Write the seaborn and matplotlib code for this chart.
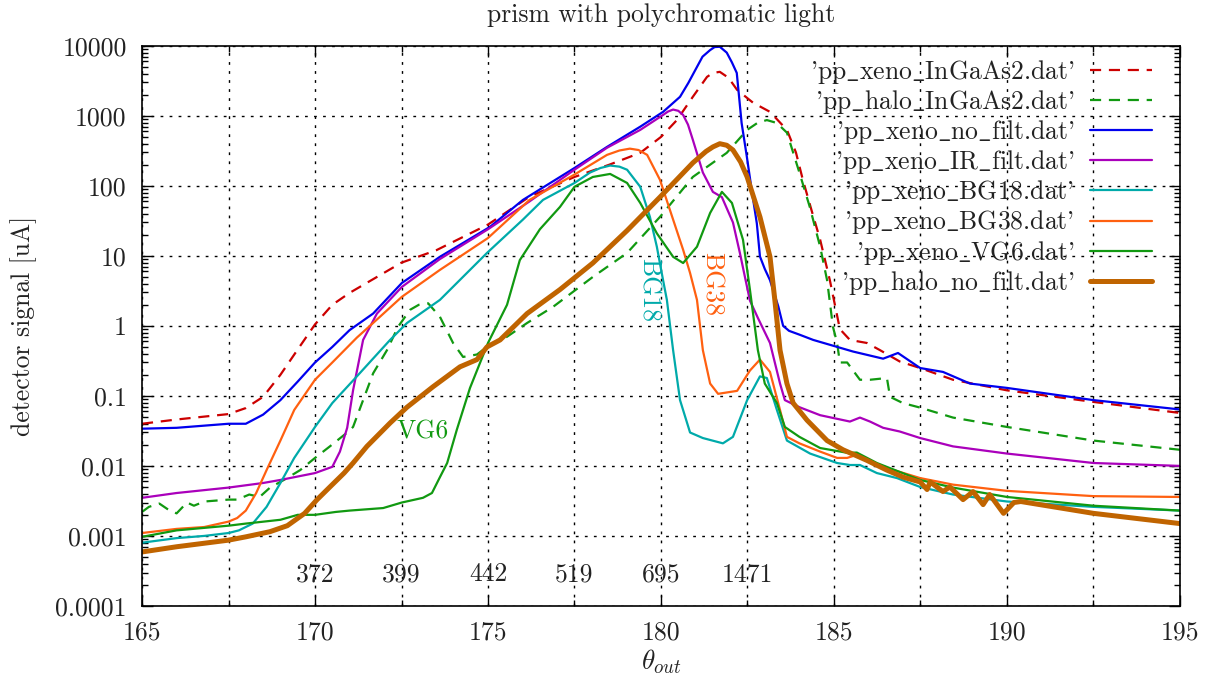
import numpy as np
import pandas as pd
import matplotlib
matplotlib.use("Agg")
import matplotlib.pyplot as plt
import matplotlib.ticker as mticker
import seaborn as sns

# ---------------- data ----------------
xeno_ingaas_x = [165, 166, 167.5, 168, 168.5, 169, 169.5, 170, 170.5, 171, 172.5, 173.5, 175, 176.2, 177.5,
                 178.5, 179.4, 180, 180.46, 180.92, 181.33, 181.5, 181.7, 181.95, 182.2, 182.66, 183.15, 183.64,
                 183.9, 184.1, 184.35, 184.6, 184.88, 185.17, 185.46, 185.95, 186.33, 186.9, 187.49, 188.44,
                 190, 192.5, 195]
xeno_ingaas_y = [0.04, 0.046, 0.055, 0.067, 0.097, 0.2, 0.46, 1.05, 2.0, 2.96, 8, 12, 28, 70, 134,
                 200, 296, 500, 870, 1870, 3600, 4100, 4250, 3500, 2350, 1540, 1140, 630,
                 300, 122, 45, 17, 4.5, 0.9, 0.63, 0.57, 0.45, 0.31, 0.25, 0.17,
                 0.12, 0.082, 0.057]

halo_ingaas_x = [165, 165.2, 165.5, 165.8, 166, 166.3, 166.5, 166.8, 167.5, 167.75, 168.1, 168.4, 168.7, 169.1,
                 169.57, 170, 170.43, 170.93, 171.1, 171.39, 171.68, 172.08, 172.4, 172.75, 173.0, 173.27, 173.61,
                 173.99, 174.28, 174.68, 174.97, 175.55, 176.13, 176.88, 178.03, 179.02, 179.97, 180.92, 181.9,
                 182.49, 182.8, 183.06, 183.35, 183.64, 184, 184.3, 184.6, 184.8, 184.97, 185.09, 185.17, 185.38,
                 185.75, 186.04, 186.53, 186.62, 186.99, 187.49, 188.44, 190, 192.5, 195]
halo_ingaas_y = [0.0022, 0.0026, 0.0029, 0.0023, 0.0021, 0.003, 0.0027, 0.0031, 0.0033, 0.0033, 0.0039, 0.0036,
                 0.0049, 0.0063, 0.0087, 0.013, 0.019, 0.03, 0.036, 0.087, 0.21, 0.45, 0.97, 1.7, 2.0, 2.1, 1.35,
                 0.57, 0.36, 0.39, 0.5, 0.7, 1.1, 1.87, 5, 11, 36, 134, 296,
                 630, 800, 870, 790, 575, 155, 50, 13.5, 4.5, 0.97, 0.57, 0.3, 0.3,
                 0.17, 0.17, 0.18, 0.097, 0.079, 0.068, 0.049, 0.036, 0.023, 0.017]

xeno_nofilt_x = [165, 166, 167.5, 168, 168.5, 169, 169.5, 170, 170.5, 171, 171.68, 172.51, 173.61, 175.06,
                 176.01, 177.5, 178.44, 179.4, 180.06, 180.55, 180.79, 181.04, 181.2, 181.42, 181.55, 181.7,
                 181.9, 182.05, 182.19, 182.33, 182.48, 182.62, 182.77, 182.86, 183.0, 183.15, 183.39, 183.53,
                 183.7, 184.0, 184.4, 185.55, 186.42, 186.85, 187.49, 188.15, 188.93, 190, 192.5, 195]
xeno_nofilt_y = [0.034, 0.035, 0.04, 0.04, 0.054, 0.087, 0.16, 0.3, 0.5, 0.87, 1.5, 4.1, 9.7, 26,
                 63, 180, 360, 700, 1140, 1870, 2950, 5000, 7000, 8700, 9600, 9700,
                 8000, 5800, 4100, 790, 263, 88, 29, 9.8, 6.5, 4.5, 1.9, 1.0,
                 0.85, 0.75, 0.63, 0.43, 0.34, 0.41, 0.25, 0.22, 0.15, 0.13, 0.087, 0.064]

xeno_ir_x = [165, 166, 167.5, 168.5, 169, 170, 170.5, 170.72, 170.93, 171.1, 171.39, 171.79, 172.51, 173.61,
             175, 176.2, 177.5, 178.44, 179.4, 180.06, 180.2, 180.35, 180.5, 180.64, 180.78, 180.92, 181.21, 181.5,
             181.76, 182.08, 182.28, 182.57, 182.8, 183.15, 183.44, 183.58, 184, 184.6, 185.46, 185.75, 186.04,
             186.42, 186.9, 187.49, 188.44, 190, 192.5, 195]
xeno_ir_y = [0.0035, 0.0041, 0.0049, 0.0057, 0.0063, 0.0079, 0.0097, 0.016, 0.035, 0.12, 0.63, 1.5, 3.6, 9,
             24, 60, 170, 350, 630, 1030, 1150, 1230, 1180, 1030, 750, 455, 155, 82,
             69, 30, 11, 2.3, 1.3, 0.57, 0.15, 0.087, 0.069, 0.053, 0.043, 0.049, 0.043,
             0.035, 0.031, 0.025, 0.019, 0.015, 0.011, 0.01]

xeno_bg18_x = [165, 166, 166.8, 167.5, 167.8, 168.2, 168.6, 169, 169.4, 170, 170.5, 171.21, 172.17, 172.66,
               173.61, 174.97, 176.01, 176.59, 177.5, 177.95, 178.25, 178.53, 178.8, 179.02, 179.4, 179.68, 179.88,
               180.06, 180.17, 180.35, 180.55, 180.84, 181.21, 181.79, 182.08, 182.49, 182.86, 183.06, 183.35,
               183.64, 184.31, 185.09, 185.46, 185.75, 186.24, 186.82, 187.49, 188.44, 190, 192.5, 195]
xeno_bg18_y = [0.0008, 0.00093, 0.001, 0.0011, 0.0012, 0.0015, 0.0026, 0.0057, 0.013, 0.036, 0.079, 0.19, 0.63, 1.1,
               2.35, 11, 33, 63, 110, 155, 180, 195, 188, 170, 97, 36, 13.5,
               4.5, 2.35, 0.45, 0.087, 0.03, 0.025, 0.021, 0.026, 0.087, 0.19, 0.18, 0.063,
               0.023, 0.015, 0.011, 0.0103, 0.0103, 0.0079, 0.0067, 0.005, 0.0039, 0.0031, 0.0026, 0.0023]

xeno_bg38_x = [165, 166, 166.8, 167.5, 167.75, 168, 168.3, 168.6, 169, 169.4, 170, 170.5, 171.21, 171.68, 172.51,
               173.61, 175, 176.2, 177.5, 178.44, 178.8, 179.1, 179.35, 179.6, 179.97, 180.35, 180.64, 180.84,
               181.04, 181.21, 181.42, 181.65, 182.2, 182.57, 182.86, 183.15, 183.44, 183.64, 184, 184.6, 185.09,
               185.38, 185.66, 186.24, 187.49, 188.44, 190, 192.5, 195]
xeno_bg38_y = [0.0011, 0.00126, 0.00134, 0.0016, 0.0018, 0.0023, 0.0041, 0.0087, 0.023, 0.063, 0.17, 0.3, 0.68, 1.1,
               2.6, 6.3, 18, 63, 145, 277, 320, 340, 325, 277, 122, 33, 12.2, 5.7,
               2.35, 0.45, 0.15, 0.107, 0.118, 0.23, 0.33, 0.22, 0.063, 0.026, 0.021, 0.016, 0.013,
               0.013, 0.0144, 0.0103, 0.0067, 0.0054, 0.0044, 0.0037, 0.0036]

xeno_vg6_x = [165, 166, 167.5, 168, 169, 169.5, 170, 170.6, 171, 171.97, 172.51, 173.12, 173.38, 173.61, 173.82,
              174.1, 174.48, 175, 175.55, 175.92, 176.5, 177.08, 177.5, 178.03, 178.53, 179.02, 179.4, 179.88,
              180.35, 180.64, 181.04, 181.42, 181.76, 182.05, 182.37, 182.57, 182.8, 183, 183.35, 183.58, 184,
              184.6, 185.38, 185.66, 186.24, 187.49, 188.44, 190, 192.5, 195]
xeno_vg6_y = [0.00097, 0.0012, 0.0014, 0.0015, 0.0017, 0.002, 0.002, 0.0022, 0.0023, 0.0025, 0.003, 0.0035, 0.0041,
              0.0069, 0.011, 0.033, 0.13, 0.57, 2.0, 8.7, 24, 50, 97, 134, 148, 110, 57, 21,
              9.7, 7.9, 13.5, 41, 82, 57, 17, 3.3, 0.45, 0.15, 0.079, 0.036, 0.026,
              0.018, 0.0154, 0.0155, 0.011, 0.0063, 0.0049, 0.0036, 0.0027, 0.0023]

halo_nofilt_x = [165, 166, 167.5, 168, 168.7, 169.2, 169.7, 170.06, 170.43, 170.84, 171.1, 171.5, 172.17, 172.66,
                 173.41, 174.19, 174.68, 174.97, 175.35, 176.13, 177.08, 178.03, 179.02, 179.97, 180.92, 181.3,
                 181.5, 181.7, 181.9, 182.08, 182.3, 182.49, 182.86, 183.15, 183.29, 183.44, 183.64, 183.82,
                 184.22, 184.8, 185.26, 185.95, 186.53, 187.0, 187.49, 187.69, 187.78, 188.15, 188.35, 188.73,
                 189.02, 189.31, 189.5, 189.9, 190.2, 190.4, 192.5, 195]
halo_nofilt_y = [0.00059, 0.0007, 0.00087, 0.00097, 0.00115, 0.0014, 0.0021, 0.0033, 0.005, 0.0079, 0.011, 0.019,
                 0.041, 0.069, 0.135, 0.26, 0.33, 0.5, 0.63, 1.5, 3.3, 7.9, 23, 69, 213, 310,
                 360, 400, 380, 325, 220, 134, 36, 9.7, 2.35, 0.45, 0.15, 0.079,
                 0.045, 0.023, 0.017, 0.012, 0.0087, 0.0069, 0.0059, 0.0046, 0.0059, 0.0043, 0.005, 0.0033,
                 0.0043, 0.0028, 0.0039, 0.0021, 0.003, 0.0031, 0.0021, 0.0015]

series_labels = ["'pp_xeno_InGaAs2.dat'", "'pp_halo_InGaAs2.dat'", "'pp_xeno_no_filt.dat'",
                 "'pp_xeno_IR_filt.dat'", "'pp_xeno_BG18.dat'", "'pp_xeno_BG38.dat'",
                 "'pp_xeno_VG6.dat'", "'pp_halo_no_filt.dat'"]

wavelength_pos = [170, 172.5, 175, 177.5, 180, 182.5]
wavelength_lbl = ["372", "399", "442", "519", "695", "1471"]

ytick_vals = [1e-4, 1e-3, 1e-2, 1e-1, 1, 10, 100, 1000, 10000]
ytick_lbls = ["0.0001", "0.001", "0.01", "0.1", "1", "10", "100", "1000", "10000"]

# ---------------- style ----------------
sns.set_theme(style="white")
plt.rcParams["font.family"] = ["cmr10", "DejaVu Serif"]
plt.rcParams["mathtext.fontset"] = "cm"
plt.rcParams["axes.formatter.use_mathtext"] = True
plt.rcParams["axes.unicode_minus"] = False

FS = 18.5
TXT = "#222222"

fig = plt.figure(figsize=(12.2, 6.74), dpi=100)
ax = fig.add_axes([0.1164, 0.101, 0.8508, 0.831])

series = [
    (xeno_ingaas_x, xeno_ingaas_y, "#cc0000", (0, (5, 3.5)), 1.6),
    (halo_ingaas_x, halo_ingaas_y, "#119911", (0, (5, 3.5)), 1.6),
    (xeno_nofilt_x, xeno_nofilt_y, "#0000ee", "-", 1.6),
    (xeno_ir_x, xeno_ir_y, "#aa00bb", "-", 1.6),
    (xeno_bg18_x, xeno_bg18_y, "#00aaaa", "-", 1.6),
    (xeno_bg38_x, xeno_bg38_y, "#ff6010", "-", 1.6),
    (xeno_vg6_x, xeno_vg6_y, "#119911", "-", 1.6),
    (halo_nofilt_x, halo_nofilt_y, "#c06400", "-", 3.6),
]

def disp(lbl):
    # cmr10 has no underscore glyph; draw it through mathtext
    return lbl.replace("_", r"$\_$")

for (xs, ys, col, ls, lw), lbl in zip(series, series_labels):
    df = pd.DataFrame({"theta": xs, "signal": ys})
    sns.lineplot(data=df, x="theta", y="signal", color=col, linestyle=ls, linewidth=lw,
                 label=disp(lbl), ax=ax, sort=False, estimator=None)

ax.set_yscale("log")
ax.set_xlim(165, 195)
ax.set_ylim(1e-4, 1e4)

ax.xaxis.set_major_locator(mticker.MultipleLocator(5))
ax.xaxis.set_minor_locator(mticker.MultipleLocator(2.5))
ax.xaxis.set_major_formatter(mticker.FormatStrFormatter("%d"))
ax.set_yticks(ytick_vals)
ax.set_yticklabels(ytick_lbls)
ax.yaxis.set_minor_locator(mticker.LogLocator(base=10, subs=np.arange(2, 10), numticks=20))
ax.yaxis.set_minor_formatter(mticker.NullFormatter())

ax.tick_params(which="both", direction="in", top=True, right=True, bottom=True, left=True,
               colors="black", labelcolor=TXT, labelsize=FS, width=1.0)
ax.tick_params(which="major", length=8)
ax.tick_params(which="minor", length=4)
ax.tick_params(axis="y", which="major", pad=11)
ax.tick_params(axis="x", which="major", pad=11)

ax.grid(True, which="major", axis="y", color="black", linestyle=(0, (2, 4.5)), linewidth=1.0)
ax.grid(True, which="both", axis="x", color="black", linestyle=(0, (2, 4.5)), linewidth=1.0)
ax.grid(False, which="minor", axis="y")

for sp in ax.spines.values():
    sp.set_color("black")
    sp.set_linewidth(1.2)

ax.set_title("prism with polychromatic light", fontsize=FS, pad=17, color=TXT)
ax.set_xlabel(r"$\theta_{out}$", fontsize=FS + 1, labelpad=2, color=TXT)
ax.set_ylabel("detector signal [uA]", fontsize=FS, labelpad=13, color=TXT)

# annotations
ax.text(173.1, 0.031, "VG6", color="#119911", fontsize=FS, ha="center", va="center")
ax.text(179.65, 3.3, "BG18", color="#00aaaa", fontsize=FS, ha="center", va="center", rotation=-90)
ax.text(181.45, 3.9, "BG38", color="#ff6010", fontsize=FS, ha="center", va="center", rotation=-90)
for xp, wl in zip(wavelength_pos, wavelength_lbl):
    ax.text(xp, 2.8e-4, wl, color=TXT, fontsize=FS, ha="center", va="center")

leg = ax.legend(loc="upper right", frameon=False, markerfirst=False, fontsize=FS,
                handlelength=2.4, handletextpad=0.6, labelspacing=0.08,
                borderaxespad=0.3, bbox_to_anchor=(0.99, 1.01))
for t in leg.get_texts():
    t.set_color(TXT)

fig.savefig("out.png", dpi=100)
